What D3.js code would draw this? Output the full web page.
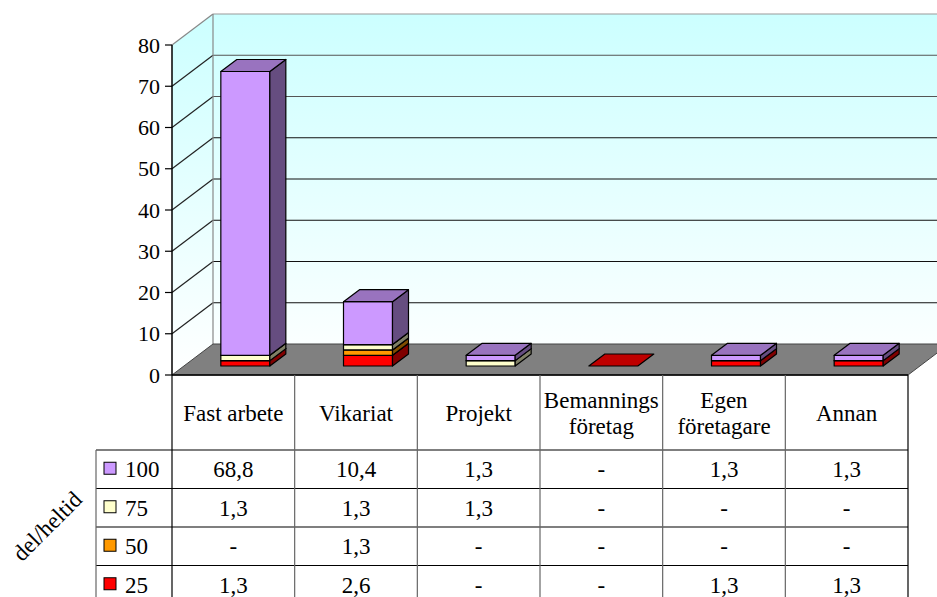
<!DOCTYPE html>
<html>
<head>
<meta charset="utf-8">
<script src="https://cdn.jsdelivr.net/npm/d3@7"></script>
<style>
  svg text { font-family: "Times New Roman", "Liberation Serif", Tinos, serif !important; }
</style>
</head>
<body style="margin:0">
<script>
// data
const categories = ['Fast arbete', 'Vikariat', 'Projekt', 'Bemannings\nföretag', 'Egen\nföretagare', 'Annan'];
const seriesNames = ['100', '75', '50', '25'];
const val100 = [68.8, 10.4, 1.3, 0, 1.3, 1.3];
const val75 = [1.3, 1.3, 1.3, 0, 0, 0];
const val50 = [0, 1.3, 0, 0, 0, 0];
const val25 = [1.3, 2.6, 0, 0, 1.3, 1.3];
const seriesColors = ['#cc99ff', '#ffffcc', '#ff9900', '#ff0000'];
const yTicks = [0, 10, 20, 30, 40, 50, 60, 70, 80];
const axisTitle = 'del/heltid';

const values = [val100, val75, val50, val25];

const W = 937, H = 597;
const svg = d3.select('body').append('svg')
    .attr('width', W).attr('height', H)
    .attr('font-family', 'Times New Roman');

const x = d3.scaleBand().domain(categories).range([172, 908]);
const y = d3.scaleLinear().domain([0, 80]).range([375, 45]);

// 3d offsets
const DX = 41, DY = -31;          // floor depth
const bx0 = 12, by0 = -9;         // bar front offset
const bdx = 16, bdy = -12;        // bar depth
const barW = 49;

const darker = (c, k) => {
  const r = d3.rgb(c);
  return d3.rgb(r.r * k, r.g * k, r.b * k).formatHex();
};

function label(g, txt, size) {
  return g.append('text')
      .attr('font-family', 'Times New Roman')
      .attr('font-size', size)
      .text(txt);
}

// wall gradient
const defs = svg.append('defs');
const grad = defs.append('linearGradient')
    .attr('id', 'wall')
    .attr('gradientUnits', 'userSpaceOnUse')
    .attr('x1', 0).attr('y1', y(80) + DY).attr('x2', 0).attr('y2', y(0));
grad.append('stop').attr('offset', 0).attr('stop-color', '#ccffff');
grad.append('stop').attr('offset', 1).attr('stop-color', '#ffffff');

const x0 = x.range()[0], x1 = x.range()[1];
const pts = a => a.map(p => p.join(',')).join(' ');

// back wall
svg.append('polygon')
    .attr('points', pts([[x0 + DX, y(80) + DY], [x1 + DX, y(80) + DY], [x1 + DX, y(0) + DY], [x0 + DX, y(0) + DY]]))
    .attr('fill', 'url(#wall)');
// left wall
svg.append('polygon')
    .attr('points', pts([[x0, y(80)], [x0 + DX, y(80) + DY], [x0 + DX, y(0) + DY], [x0, y(0)]]))
    .attr('fill', 'url(#wall)');

// gridlines
yTicks.filter(t => t > 0).forEach(t => {
  svg.append('line')
      .attr('x1', x0 + DX).attr('x2', x1 + DX)
      .attr('y1', y(t) + DY).attr('y2', y(t) + DY)
      .attr('stroke', t === 80 ? '#999' : (t >= 60 ? '#555' : '#111')).attr('stroke-width', 1.2);
  svg.append('line')
      .attr('x1', x0).attr('x2', x0 + DX)
      .attr('y1', y(t)).attr('y2', y(t) + DY)
      .attr('stroke', t === 80 ? '#888' : '#222').attr('stroke-width', 1.2);
});
svg.append('line')
    .attr('x1', x0 + DX).attr('x2', x0 + DX)
    .attr('y1', y(80) + DY).attr('y2', y(0) + DY)
    .attr('stroke', '#888').attr('stroke-width', 1.2);

// floor
svg.append('polygon')
    .attr('points', pts([[x0, y(0)], [x1, y(0)], [x1 + DX, y(0) + DY], [x0 + DX, y(0) + DY]]))
    .attr('fill', '#808080')
    .attr('stroke', '#444').attr('stroke-width', 1);
svg.append('line')
    .attr('x1', x0).attr('x2', x1).attr('y1', y(0)).attr('y2', y(0))
    .attr('stroke', '#000').attr('stroke-width', 1.5);

// y axis
svg.append('line')
    .attr('x1', x0).attr('x2', x0).attr('y1', y(80)).attr('y2', y(0))
    .attr('stroke', '#000').attr('stroke-width', 1.5);
const yAxis = svg.append('g');
yTicks.forEach(t => {
  yAxis.append('line')
      .attr('x1', x0 - 7).attr('x2', x0).attr('y1', y(t)).attr('y2', y(t))
      .attr('stroke', '#000').attr('stroke-width', 1.2);
  label(yAxis, t, 22)
      .attr('x', x0 - 12).attr('y', y(t))
      .attr('dy', '0.35em')
      .attr('text-anchor', 'end');
});

// bars
const bars = svg.append('g');
function drawBlock(cx, v0, v1, color, flat) {
  const l = cx - barW / 2 + bx0, r = cx + barW / 2 + bx0;
  const yb = y(v0) + by0, yt = y(v1) + by0;
  const g = bars.append('g').attr('stroke', '#000').attr('stroke-width', 1.2).attr('stroke-linejoin', 'round');
  if (!flat) {
    g.append('polygon').attr('points', pts([[l, yt], [r, yt], [r, yb], [l, yb]])).attr('fill', color);
    g.append('polygon').attr('points', pts([[r, yt], [r + bdx, yt + bdy], [r + bdx, yb + bdy], [r, yb]])).attr('fill', darker(color, 0.5));
  }
  g.append('polygon').attr('points', pts([[l, yt], [r, yt], [r + bdx, yt + bdy], [l + bdx, yt + bdy]])).attr('fill', darker(color, 0.75));
}

categories.forEach((cat, i) => {
  const cx = x(cat) + x.bandwidth() / 2;
  const total = d3.sum(values, s => s[i]);
  if (total === 0) {
    drawBlock(cx, 0, 0, seriesColors[3], true);
    return;
  }
  let acc = 0;
  for (let s = values.length - 1; s >= 0; s--) {
    const v = values[s][i];
    if (v > 0) {
      drawBlock(cx, acc, acc + v, seriesColors[s], false);
      acc += v;
    }
  }
});

// data table
const headTop = 375, headBot = 450, rowH = 38.5, rowLeft = 96;
const table = svg.append('g');
const rowY = d => headBot + d * rowH;

for (let r = 0; r <= seriesNames.length; r++) {
  table.append('line')
      .attr('x1', rowLeft).attr('x2', x1)
      .attr('y1', rowY(r)).attr('y2', rowY(r))
      .attr('stroke', '#000').attr('stroke-width', 1.2);
}
x.domain().forEach((c, i) => {
  table.append('line')
      .attr('x1', x(c)).attr('x2', x(c))
      .attr('y1', headTop).attr('y2', H + 10)
      .attr('stroke', i === 0 ? '#000' : '#666').attr('stroke-width', 1.2);
});
table.append('line')
    .attr('x1', x1).attr('x2', x1).attr('y1', headTop).attr('y2', H + 10)
    .attr('stroke', '#000').attr('stroke-width', 1.2);
table.append('line')
    .attr('x1', rowLeft).attr('x2', rowLeft).attr('y1', headBot).attr('y2', H + 10)
    .attr('stroke', '#666').attr('stroke-width', 1.2);

// header labels
categories.forEach(cat => {
  const lines = cat.split('\n');
  const cx = x(cat) + x.bandwidth() / 2;
  const cy = (headTop + headBot) / 2;
  lines.forEach((ln, k) => {
    label(table, ln, 23)
        .attr('x', cx)
        .attr('y', cy + (k - (lines.length - 1) / 2) * 26)
        .attr('dy', '0.35em')
        .attr('text-anchor', 'middle');
  });
});

// rows
const fmt = v => v === 0 ? '-' : d3.format('.1f')(v).replace('.', ',');
seriesNames.forEach((name, r) => {
  const cy = rowY(r) + rowH / 2;
  table.append('rect')
      .attr('x', 104).attr('y', cy - 7).attr('width', 12).attr('height', 12)
      .attr('fill', seriesColors[r]).attr('stroke', '#000').attr('stroke-width', 1);
  label(table, name, 23)
      .attr('x', 125).attr('y', cy)
      .attr('dy', '0.35em');
  categories.forEach((cat, i) => {
    label(table, fmt(values[r][i]), 23)
        .attr('x', x(cat) + x.bandwidth() / 2).attr('y', cy)
        .attr('dy', '0.35em')
        .attr('text-anchor', 'middle');
  });
});

// row axis title
label(svg, axisTitle, 23)
    .attr('transform', 'translate(47,526) rotate(-45)')
    .attr('text-anchor', 'middle')
    .attr('dy', '0.35em');
</script>
</body>
</html>
